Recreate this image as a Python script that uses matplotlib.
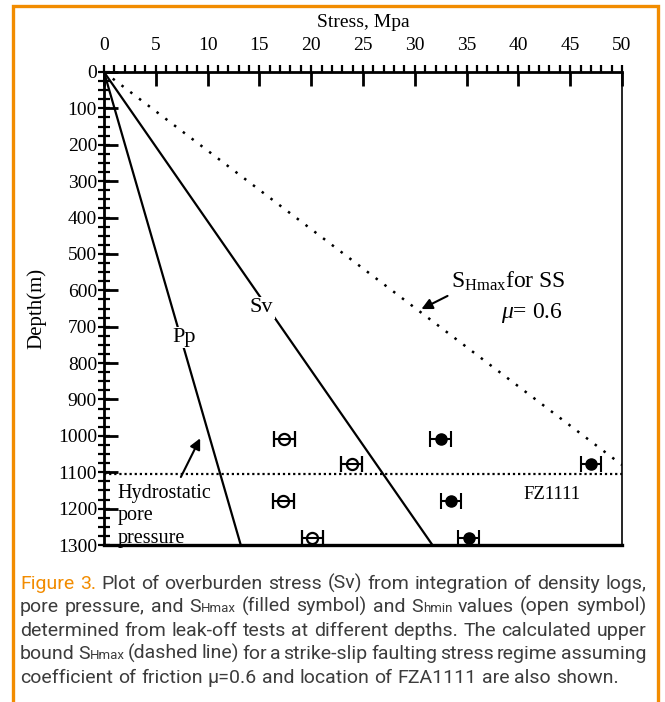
import re
import matplotlib
matplotlib.use('Agg')
import matplotlib.pyplot as plt
from matplotlib.ticker import MultipleLocator
from matplotlib.patches import Rectangle

plt.rcParams['font.family'] = ['Liberation Serif', 'DejaVu Serif']
plt.rcParams['mathtext.fontset'] = 'custom'
plt.rcParams['mathtext.rm'] = 'Liberation Serif'
plt.rcParams['mathtext.it'] = 'Liberation Serif:italic'

# stress (MPa) reached at bottom of plot (1300 m)
pp_bottom = 13.2
sv_bottom = 31.7
# depth where SS upper bound reaches 50 MPa
ss_depth_at_50 = 1080
fz_depth = 1105

shmin_stress = [17.4, 23.9, 17.3, 20.1]
shmin_depth = [1010, 1078, 1178, 1280]
shmax_stress = [32.5, 47.0, 33.5, 35.2]
shmax_depth = [1008, 1078, 1180, 1280]
err = 1.0

caption = [
    "Figure 3. Plot of overburden stress (Sv) from integration of density logs,",
    "pore pressure, and S{Hmax} (filled symbol) and S{hmin} values (open symbol)",
    "determined from leak-off tests at different depths. The calculated upper",
    "bound S{Hmax} (dashed line) for a strike-slip faulting stress regime assuming",
    "coefficient of friction \u03bc=0.6 and location of FZA1111 are also shown.",
]

fig = plt.figure(figsize=(6.65, 7.02), dpi=100)
ax = fig.add_axes([104/665, 1-545/702, 518/665, 473/702])

ax.plot([0, pp_bottom], [0, 1300], color='k', lw=1.6)
ax.plot([0, sv_bottom], [0, 1300], color='k', lw=1.6)
ax.plot([0, 50], [0, ss_depth_at_50], color='k', lw=1.8, ls=(0, (1, 3.4)))
ax.plot([0, 50], [fz_depth, fz_depth], color='k', lw=1.6, ls=(0, (1, 1.3)))

ax.errorbar(shmin_stress, shmin_depth, xerr=err, fmt='o', ms=8, mfc='none',
            mec='k', mew=1.6, ecolor='k', elinewidth=1.5, capsize=6, capthick=1.5)
ax.errorbar(shmax_stress, shmax_depth, xerr=err, fmt='o', ms=8, mfc='k',
            mec='k', ecolor='k', elinewidth=1.5, capsize=6, capthick=1.5)

ax.set_xlim(0, 50)
ax.set_ylim(1300, 0)
ax.xaxis.set_ticks_position('top')
ax.xaxis.set_label_position('top')
ax.xaxis.set_major_locator(MultipleLocator(5))
ax.xaxis.set_minor_locator(MultipleLocator(1))
ax.yaxis.set_major_locator(MultipleLocator(100))
ax.yaxis.set_minor_locator(MultipleLocator(25))
ax.xaxis.remove_overlapping_locs = False
ax.yaxis.remove_overlapping_locs = False
ax.tick_params(axis='x', which='major', direction='in', length=10, width=2, labelsize=14, pad=13)
ax.tick_params(axis='x', which='minor', direction='out', length=5, width=1.6)
ax.tick_params(axis='y', which='major', direction='in', length=10, width=2, labelsize=14, pad=5)
ax.tick_params(axis='y', which='minor', direction='inout', length=8, width=1.6)
ax.set_xlabel('Stress, Mpa', fontsize=14, labelpad=7)
ax.set_ylabel('Depth(m)', fontsize=15, labelpad=8)
for s in ['top', 'left']:
    ax.spines[s].set_linewidth(2)
ax.spines['bottom'].set_linewidth(2.4)
ax.spines['right'].set_linewidth(1.2)

lab = dict(ha='center', va='center', bbox=dict(fc='white', ec='none', pad=1))
ax.text(7.7, 730, 'Pp', fontsize=16, **lab)
ax.text(15.2, 648, 'Sv', fontsize=16, **lab)
ax.text(39.0, 575, r'S$_{\mathrm{Hmax}}$for SS', fontsize=17, ha='center', va='center')
ax.text(41.3, 662, r'$\mu$= 0.6', fontsize=17, ha='center', va='center')
ax.annotate('', xy=(30.4, 655), xytext=(33.4, 612),
            arrowprops=dict(arrowstyle='-|>', color='k', lw=1.5, mutation_scale=16))
ax.text(1.3, 1220, 'Hydrostatic\npore\npressure', fontsize=14.5, ha='left', va='center',
        linespacing=1.25)
ax.annotate('', xy=(9.4, 1000), xytext=(7.3, 1120),
            arrowprops=dict(arrowstyle='-|>', color='k', lw=1.5, mutation_scale=16))
ax.text(43.2, 1160, 'FZ1111', fontsize=13.5, ha='center', va='center')

# orange frame
fig.patches.append(Rectangle((13/665, -0.05), 645/665, 1.05 - 6/702, transform=fig.transFigure,
                             fill=False, ec='#F28C00', lw=2.4))

# caption, justified
renderer = fig.canvas.get_renderer()
cap_size = 14
sub_size = 9.5
cap_family = ['Roboto', 'DejaVu Sans']
x0, x1 = 20, 646
baselines = [589, 612, 636, 659, 683]
orange = '#F28C00'
grey = '#3c3c3c'


def make_pieces(word, color):
    pieces = []
    for part in re.split(r'(\{[^}]*\})', word):
        if not part:
            continue
        if part.startswith('{'):
            pieces.append((part[1:-1], sub_size, color))
        else:
            pieces.append((part, cap_size, color))
    return pieces


for i, line in enumerate(caption):
    words = line.split(' ')
    y = 1 - baselines[i] / 702
    items = []
    for j, w in enumerate(words):
        color = orange if (i == 0 and j < 2) else grey
        arts = []
        width = 0
        for txt, size, c in make_pieces(w, color):
            t = fig.text(0, y, txt, fontsize=size, color=c, va='baseline', ha='left',
                         family=cap_family)
            wpx = t.get_window_extent(renderer).width
            arts.append((t, width))
            width += wpx
        items.append((arts, width))
    total = sum(w for _, w in items)
    if i < len(caption) - 1:
        gap = (x1 - x0 - total) / (len(items) - 1)
    else:
        gap = cap_size * 0.26 * 100 / 72
    x = x0
    for arts, width in items:
        for t, off in arts:
            t.set_x((x + off) / 665)
        x += width + gap

fig.savefig('out.png', dpi=100)
